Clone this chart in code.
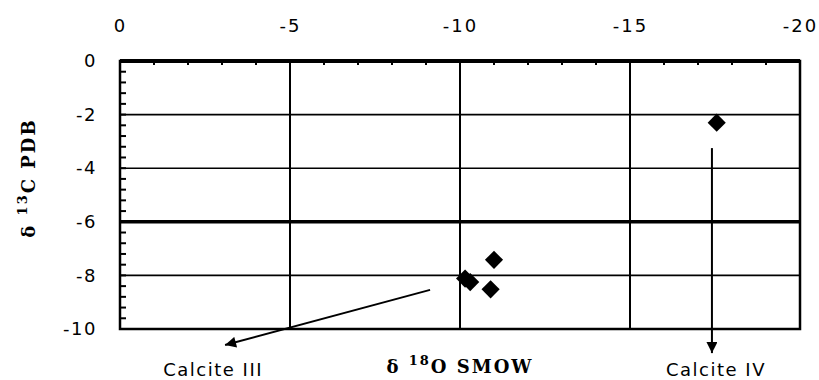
<!DOCTYPE html>
<html>
<head>
<meta charset="utf-8">
<script src="https://cdn.jsdelivr.net/npm/d3@7"></script>
<style>
  body { margin: 0; background: #fff; }
  svg { display: block; }
</style>
</head>
<body>
<div id="chart"></div>
<script>
// delta 18O (SMOW) and delta 13C (PDB) of the samples
const o18 = [-17.55, -11.0, -10.15, -10.3, -10.9]
const c13 = [-2.3, -7.42, -8.12, -8.25, -8.52]

const xTicks = [0, -5, -10, -15, -20]
const yTicks = [0, -2, -4, -6, -8, -10]
const xGrid = [-5, -10, -15]
const yGrid = [-2, -4, -8]
const yBold = [-6]

// arrows to the calcite groups, in data units
const arrowNames = ['Calcite III', 'Calcite IV']
const arrowFrom = [[-9.12, -8.54], [-17.41, -3.25]]
const arrowTo = [[-3.09, -10.6], [-17.41, -10.9]]
const arrowLabelX = [-2.74, -17.53]

const render = () => {
  const width = 819
  const height = 380
  const margin = { top: 61, right: 19, bottom: 51, left: 120 }

  const svg = d3
    .select('#chart')
    .append('svg')
    .attr('width', width)
    .attr('height', height)

  const defs = svg.append('defs')
  defs
    .append('marker')
    .attr('id', 'head')
    .attr('viewBox', '0 0 10 10')
    .attr('refX', 10)
    .attr('refY', 5)
    .attr('markerUnits', 'userSpaceOnUse')
    .attr('markerWidth', 15)
    .attr('markerHeight', 11)
    .attr('orient', 'auto')
    .append('path')
    .attr('d', 'M0,0L10,5L0,10Z')
    .attr('fill', '#000')

  const xScale = d3
    .scaleLinear()
    .domain([0, -20])
    .range([margin.left, width - margin.right])

  const yScale = d3
    .scaleLinear()
    .domain([0, -10])
    .range([margin.top, height - margin.bottom])

  const [x0, x1] = xScale.range()
  const [y0, y1] = yScale.range()

  // grid
  svg
    .append('g')
    .selectAll('line')
    .data(xGrid)
    .enter()
    .append('line')
    .attr('x1', (d) => xScale(d))
    .attr('x2', (d) => xScale(d))
    .attr('y1', y0)
    .attr('y2', y1)
    .attr('stroke', '#000')
    .attr('stroke-width', 2)

  svg
    .append('g')
    .selectAll('line')
    .data(yGrid.concat(yBold))
    .enter()
    .append('line')
    .attr('x1', x0)
    .attr('x2', x1)
    .attr('y1', (d) => yScale(d))
    .attr('y2', (d) => yScale(d))
    .attr('stroke', '#000')
    .attr('stroke-width', (d) => (yBold.includes(d) ? 3.5 : 1.6))

  // top axis
  const xAxis = d3
    .axisTop(xScale)
    .tickValues(xTicks)
    .tickSize(0)
    .tickPadding(29)
    .tickFormat((d) => (d === 0 ? '0' : '-' + Math.abs(d)))

  const gx = svg
    .append('g')
    .attr('transform', `translate(0, ${y0})`)
    .call(xAxis)
  gx.select('.domain').remove()
  gx.selectAll('text')
    .attr('font-family', 'DejaVu Sans, sans-serif')
    .attr('font-size', 18)
    .attr('letter-spacing', 2)
    .attr('fill', '#000')

  // minor ticks on top, every unit
  svg
    .append('g')
    .selectAll('line')
    .data(d3.range(-1, -20, -1))
    .enter()
    .append('line')
    .attr('x1', (d) => xScale(d))
    .attr('x2', (d) => xScale(d))
    .attr('y1', y0)
    .attr('y2', y0 + 4)
    .attr('stroke', '#000')
    .attr('stroke-width', 2)

  // left axis
  const yAxis = d3
    .axisLeft(yScale)
    .tickValues(yTicks)
    .tickSize(0)
    .tickPadding(23)
    .tickFormat((d) => (d === 0 ? '0' : '-' + Math.abs(d)))

  const gy = svg
    .append('g')
    .attr('transform', `translate(${x0}, 0)`)
    .call(yAxis)
  gy.select('.domain').remove()
  gy.selectAll('text')
    .attr('font-family', 'DejaVu Sans, sans-serif')
    .attr('font-size', 18)
    .attr('letter-spacing', 1.5)
    .attr('fill', '#000')

  // minor ticks on the left, every 0.4
  svg
    .append('g')
    .selectAll('line')
    .data(d3.range(1, 25).map((i) => -i * 0.4))
    .enter()
    .append('line')
    .attr('x1', x0)
    .attr('x2', x0 + 6)
    .attr('y1', (d) => yScale(d))
    .attr('y2', (d) => yScale(d))
    .attr('stroke', '#000')
    .attr('stroke-width', 2)

  // frame
  svg
    .append('rect')
    .attr('x', x0)
    .attr('y', y0)
    .attr('width', x1 - x0)
    .attr('height', y1 - y0)
    .attr('fill', 'none')
    .attr('stroke', '#000')
    .attr('stroke-width', 2.5)
  svg
    .append('line')
    .attr('x1', x0)
    .attr('x2', x1)
    .attr('y1', y0)
    .attr('y2', y0)
    .attr('stroke', '#000')
    .attr('stroke-width', 4)

  // points
  const diamond = d3.symbol(d3.symbolSquare, 165)
  svg
    .append('g')
    .selectAll('path')
    .data(o18)
    .enter()
    .append('path')
    .attr('d', diamond)
    .attr(
      'transform',
      (d, i) => `translate(${xScale(d)}, ${yScale(c13[i])}) rotate(45)`
    )
    .attr('fill', '#000')

  // arrows
  svg
    .append('g')
    .selectAll('line')
    .data(arrowNames)
    .enter()
    .append('line')
    .attr('x1', (d, i) => xScale(arrowFrom[i][0]))
    .attr('y1', (d, i) => yScale(arrowFrom[i][1]))
    .attr('x2', (d, i) => xScale(arrowTo[i][0]))
    .attr('y2', (d, i) => yScale(arrowTo[i][1]))
    .attr('stroke', '#000')
    .attr('stroke-width', 2)
    .attr('marker-end', 'url(#head)')

  svg
    .append('g')
    .selectAll('text')
    .data(arrowNames)
    .enter()
    .append('text')
    .attr('x', (d, i) => xScale(arrowLabelX[i]))
    .attr('y', 376)
    .attr('text-anchor', 'middle')
    .attr('font-family', 'DejaVu Sans, sans-serif')
    .attr('font-size', 18)
    .attr('letter-spacing', 1.5)
    .text((d) => d)

  // axis titles
  const xTitle = svg
    .append('text')
    .attr('x', (x0 + x1) / 2)
    .attr('y', 373)
    .attr('text-anchor', 'middle')
    .attr('font-family', 'DejaVu Serif, serif')
    .attr('font-weight', 'bold')
    .attr('font-size', 18)
    .attr('letter-spacing', 2)
  xTitle.append('tspan').text('δ ')
  xTitle.append('tspan').attr('font-size', 13).attr('dy', -8).text('18')
  xTitle.append('tspan').attr('dy', 8).text('O SMOW')

  const yTitle = svg
    .append('text')
    .attr('transform', 'translate(35, 178) rotate(-90)')
    .attr('text-anchor', 'middle')
    .attr('font-family', 'DejaVu Serif, serif')
    .attr('font-weight', 'bold')
    .attr('font-size', 18)
    .attr('letter-spacing', 2)
  yTitle.append('tspan').text('δ ')
  yTitle.append('tspan').attr('font-size', 13).attr('dy', -8).text('13')
  yTitle.append('tspan').attr('dy', 8).text('C PDB')
}

render()
</script>
</body>
</html>
